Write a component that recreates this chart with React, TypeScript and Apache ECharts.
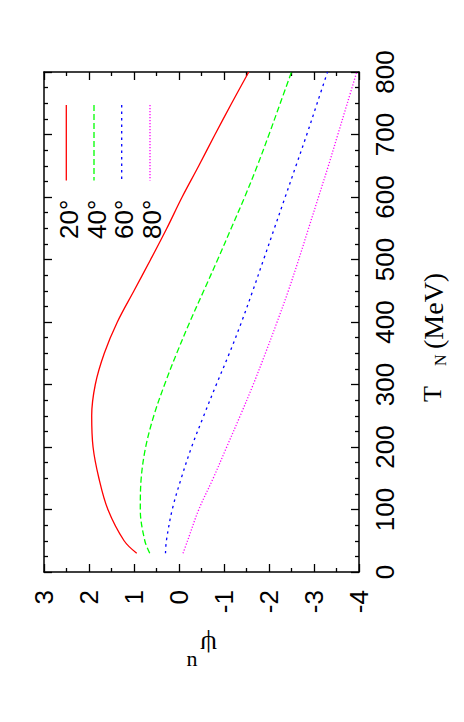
import React, { useEffect, useRef } from "react";
import * as echarts from "echarts";

// Kinetic energy T_N (MeV)
const tN = [30, 50, 100, 150, 200, 250, 300, 350, 400, 450, 500, 550, 600, 650, 700, 750, 800];
// psi_n for each angle
const psi20 = [0.94, 1.22, 1.58, 1.78, 1.91, 1.94, 1.86, 1.66, 1.37, 1.0, 0.63, 0.27, -0.07, -0.44, -0.8, -1.17, -1.55];
const psi40 = [0.65, 0.76, 0.86, 0.84, 0.74, 0.56, 0.32, 0.05, -0.24, -0.55, -0.86, -1.16, -1.46, -1.74, -2.0, -2.25, -2.5];
const psi60 = [0.3, 0.28, 0.15, -0.05, -0.28, -0.55, -0.83, -1.12, -1.39, -1.64, -1.88, -2.12, -2.36, -2.6, -2.84, -3.07, -3.3];
const psi80 = [-0.09, -0.19, -0.44, -0.76, -1.06, -1.36, -1.65, -1.92, -2.18, -2.43, -2.66, -2.88, -3.1, -3.32, -3.53, -3.74, -3.95];

const seriesNames = ["20°", "40°", "60°", "80°"];
const seriesColors = ["#ff0000", "#00ff00", "#0000ff", "#ff00ff"];
const seriesDash: (number[] | null)[] = [null, [6, 3], [2.5, 4], [1.2, 1.8]];
const seriesValues = [psi20, psi40, psi60, psi80];

const psiMin = -4;
const psiMax = 3;
const tMin = 0;
const tMax = 800;

const SANS = "'Liberation Sans', Arial, Helvetica, sans-serif";
const SERIF = "'Liberation Serif', 'Times New Roman', serif";

export default function App() {
  const ref = useRef<HTMLDivElement>(null);

  useEffect(() => {
    if (!ref.current) return;
    const chart = echarts.init(ref.current, undefined, { renderer: "svg" });

    const axisLine = { show: true, onZero: false, lineStyle: { color: "#000", width: 1.5 } };
    const tick = { show: true, inside: true, length: 8, lineStyle: { color: "#000", width: 1.3 } };

    const legendLineX = [66.3, 94, 121.7, 150];
    const legendTextX = [69, 97, 124, 152];

    const graphics: any[] = [];
    seriesNames.forEach((name, i) => {
      graphics.push({
        type: "line",
        shape: { x1: legendLineX[i], y1: 105, x2: legendLineX[i], y2: 180.5 },
        style: {
          stroke: seriesColors[i],
          lineWidth: 1.3,
          lineDash: seriesDash[i] || undefined,
        },
      });
      graphics.push({
        type: "text",
        x: legendTextX[i],
        y: 239,
        rotation: Math.PI / 2,
        style: {
          text: name,
          fontSize: 26,
          fontFamily: SANS,
          fill: "#000",
          align: "left",
          verticalAlign: "middle",
        },
      });
    });

    // T_N (MeV) label
    graphics.push({
      type: "text",
      x: 432.5,
      y: 402,
      rotation: Math.PI / 2,
      style: { text: "T", fontSize: 26, fontFamily: SERIF, fill: "#000", align: "left", verticalAlign: "middle" },
    });
    graphics.push({
      type: "text",
      x: 440,
      y: 366,
      rotation: Math.PI / 2,
      style: { text: "N", fontSize: 16, fontFamily: SERIF, fill: "#000", align: "left", verticalAlign: "middle" },
    });
    graphics.push({
      type: "text",
      x: 433,
      y: 349,
      rotation: Math.PI / 2,
      style: { text: "(MeV)", fontSize: 28, fontFamily: SERIF, fill: "#000", align: "left", verticalAlign: "middle" },
    });
    // psi_n label
    graphics.push({
      type: "text",
      x: 208.5,
      y: 645,
      rotation: Math.PI,
      style: { text: "ψ", fontSize: 27, fontFamily: SERIF, fill: "#000", align: "center", verticalAlign: "middle" },
    });
    graphics.push({
      type: "text",
      x: 192,
      y: 658,
      style: { text: "n", fontSize: 22, fontFamily: SERIF, fill: "#000", align: "center", verticalAlign: "middle" },
    });

    const option: any = {
      animation: false,
      backgroundColor: "#fff",
      grid: { left: 44, right: 105, top: 72, bottom: 150, containLabel: false },
      xAxis: [
        {
          type: "value",
          position: "bottom",
          min: psiMin,
          max: psiMax,
          interval: 1,
          inverse: true,
          axisLine,
          axisTick: tick,
          minorTick: { show: true, splitNumber: 2, length: 4, lineStyle: { color: "#000", width: 1.3 } },
          splitLine: { show: false },
          axisLabel: {
            show: true,
            rotate: 90,
            margin: 18,
            fontSize: 26,
            fontFamily: SANS,
            color: "#000",
          },
        },
        {
          type: "value",
          position: "top",
          min: psiMin,
          max: psiMax,
          interval: 1,
          inverse: true,
          axisLine,
          axisTick: tick,
          minorTick: { show: true, splitNumber: 2, length: 4, lineStyle: { color: "#000", width: 1.3 } },
          splitLine: { show: false },
          axisLabel: { show: false },
        },
      ],
      yAxis: [
        {
          type: "value",
          position: "right",
          min: tMin,
          max: tMax,
          interval: 100,
          axisLine,
          axisTick: tick,
          minorTick: { show: true, splitNumber: 4, length: 4, lineStyle: { color: "#000", width: 1.3 } },
          splitLine: { show: false },
          axisLabel: {
            show: true,
            rotate: 90,
            margin: 13,
            fontSize: 26,
            fontFamily: SANS,
            color: "#000",
          },
        },
        {
          type: "value",
          position: "left",
          min: tMin,
          max: tMax,
          interval: 100,
          axisLine,
          axisTick: tick,
          minorTick: { show: true, splitNumber: 4, length: 4, lineStyle: { color: "#000", width: 1.3 } },
          splitLine: { show: false },
          axisLabel: { show: false },
        },
      ],
      series: seriesValues.map((vals, i) => ({
        name: seriesNames[i],
        type: "line",
        xAxisIndex: 0,
        yAxisIndex: 0,
        showSymbol: false,
        smooth: 0.35,
        data: vals.map((v, j) => [v, tN[j]]),
        lineStyle: {
          color: seriesColors[i],
          width: 1.3,
          type: seriesDash[i] || "solid",
        },
        z: 3,
      })),
      graphic: graphics,
    };

    chart.setOption(option);
    return () => chart.dispose();
  }, []);

  return (
    <div
      ref={ref}
      style={{ position: "fixed", left: 0, top: 0, width: 464, height: 722, background: "#fff" }}
    />
  );
}
